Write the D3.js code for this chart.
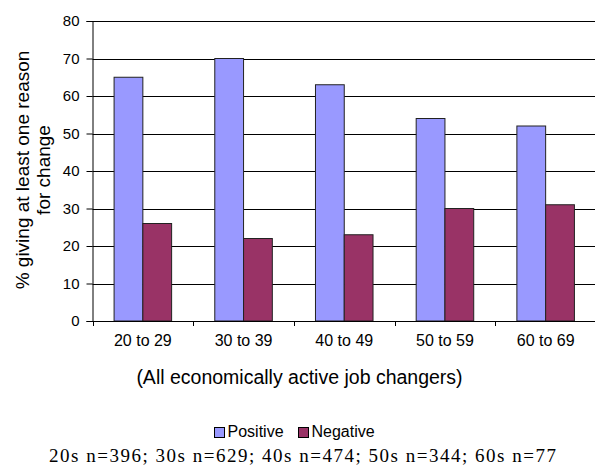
<!DOCTYPE html>
<html><head><meta charset="utf-8">
<script src="https://cdn.jsdelivr.net/npm/d3@7"></script>
<style>body{margin:0;background:#fff;}svg{display:block;}</style>
</head><body>
<svg id="c" width="595" height="467"></svg>
<script>
const categories = ["20 to 29","30 to 39","40 to 49","50 to 59","60 to 69"];
const positive = [65, 70, 63, 54, 52];
const negative = [26, 22, 23, 30, 31];
const seriesNames = ["Positive","Negative"];
const yTicks = [0,10,20,30,40,50,60,70,80];
const note = "20s n=396; 30s n=629; 40s n=474; 50s n=344; 60s n=77";

const svg = d3.select("#c");
const sans = "'Liberation Sans', Arial, sans-serif";
const colors = ["#9999FF","#993366"];
const pLeft = 92.5, pRight = 596, pTop = 21, pBottom = 321;

const x = d3.scaleBand().domain(categories).range([pLeft, pRight]).paddingInner(0).paddingOuter(0);
const bw = x.bandwidth()/3.5;
const xs = d3.scaleBand().domain(seriesNames).range([0.75*bw, 2.75*bw]);
const y = d3.scaleLinear().domain([0,80]).range([pBottom, pTop]);

// gridlines
svg.append("g").selectAll("line").data(yTicks.filter(d=>d>0)).join("line")
  .attr("x1", pLeft).attr("x2", 595).attr("y1", d=>Math.round(y(d))+0.5).attr("y2", d=>Math.round(y(d))+0.5)
  .attr("stroke", "#000").attr("stroke-width", 1);

// bars
const data = categories.map((c,i)=>({c, vals:[positive[i], negative[i]]}));
const g = svg.append("g").selectAll("g").data(data).join("g").attr("transform", d=>`translate(${x(d.c)},0)`);
g.selectAll("rect").data(d=>d.vals.map((v,j)=>({v, s:seriesNames[j], j}))).join("rect")
  .attr("x", d=>xs(d.s)).attr("width", xs.bandwidth())
  .attr("y", d=>y(d.v)).attr("height", d=>y(0)-y(d.v))
  .attr("fill", d=>colors[d.j]).attr("stroke", "#222").attr("stroke-width", 1);

// y axis
const ya = d3.axisLeft(y).tickValues(yTicks).tickSize(6).tickPadding(7);
svg.append("g").attr("transform", `translate(${pLeft},0)`).call(ya)
  .call(s=>{s.select(".domain").attr("stroke","#000");
    s.selectAll(".tick line").attr("stroke","#000");
    s.selectAll("text").attr("font-family", sans).attr("font-size", 15).attr("fill","#000");});

// x axis
const xa = d3.axisBottom(x).tickSize(0).tickPadding(14);
svg.append("g").attr("transform", `translate(0,${pBottom})`).call(xa)
  .call(s=>{s.select(".domain").attr("stroke","#000");
    s.selectAll("text").attr("font-family", sans).attr("font-size", 16).attr("fill","#000");});
// category boundary ticks
svg.append("g").selectAll("line").data(categories).join("line")
  .attr("x1", d=>Math.round(x(d))+0.5).attr("x2", d=>Math.round(x(d))+0.5)
  .attr("y1", pBottom).attr("y2", pBottom+5).attr("stroke","#000");

// y title
const yt = svg.append("text").attr("transform", "translate(0,170) rotate(-90)")
  .attr("text-anchor","middle").attr("font-family", sans).attr("font-size", 19);
yt.append("tspan").attr("x",0).attr("y",29).text("% giving at least one reason");
yt.append("tspan").attr("x",0).attr("y",50).text("for change");

// subtitle
svg.append("text").attr("x", 299.5).attr("y", 384).attr("text-anchor","middle")
  .attr("font-family", sans).attr("font-size", 19.5).text("(All economically active job changers)");

// legend
const lg = svg.append("g").selectAll("g").data(seriesNames).join("g")
  .attr("transform", (d,i)=>`translate(${i===0?214:298},427)`);
lg.append("rect").attr("x",0.5).attr("y",0.5).attr("width",10).attr("height",10)
  .attr("fill",(d,i)=>colors[i]).attr("stroke","#000");
lg.append("text").attr("x",13.5).attr("y",10).attr("font-family",sans).attr("font-size",16).text(d=>d);

// note
svg.append("text").attr("x", 49).attr("y", 462).attr("font-family","'Liberation Serif', 'Times New Roman', serif")
  .attr("font-size", 19).attr("textLength", 507).attr("lengthAdjust","spacing").text(note);
</script>
</body></html>
